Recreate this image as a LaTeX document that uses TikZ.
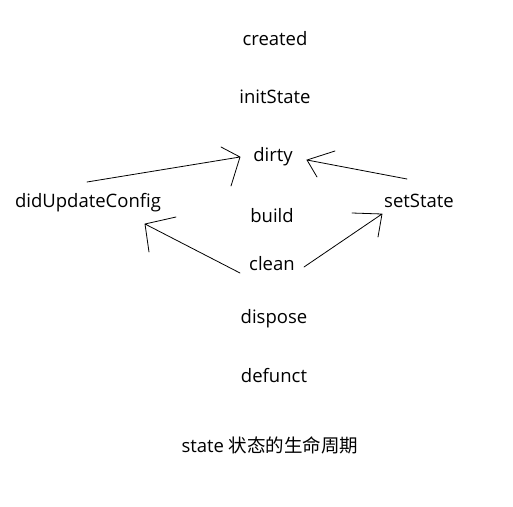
\documentclass[tikz,border=0pt]{standalone}
\usepackage{fontspec}
\setmainfont{Open Sans}
\newfontfamily\cjk{Noto Sans CJK SC}
\begin{document}
\begin{tikzpicture}[x=1pt,y=-1pt,
  lbl/.style={inner sep=0pt,font=\fontsize{18.5}{21}\selectfont},
  stroke/.style={line width=0.8pt,line cap=round}]
\useasboundingbox[fill=white] (0,0) rectangle (513,506);
\node[lbl] (created) at (275,39) {created};
\node[lbl] (initState) at (275,97) {initState};
\node[lbl] (dirty) at (273,157) {dirty};
\node[lbl] (didUpdateConfig) at (88,203) {didUpdateConfig};
\node[lbl] (build) at (272,216) {build};
\node[lbl] (setState) at (419,201) {setState};
\node[lbl] (clean) at (272,264) {clean};
\node[lbl] (dispose) at (274,319) {dispose};
\node[lbl] (defunct) at (274,376) {defunct};
\node[lbl] (title) at (270,445) {state {\cjk 状态的生命周期}};
% arrow didUpdateConfig -> dirty
\coordinate (a1s) at (87,182); \coordinate (a1e) at (240,157);
\coordinate (a1h1) at (221,147); \coordinate (a1h2) at (231,186);
\draw[stroke] (a1s) -- (a1e) (a1h1) -- (a1e) -- (a1h2);
% arrow setState -> dirty
\coordinate (a2s) at (407,179); \coordinate (a2e) at (307,160);
\coordinate (a2h1) at (335,151); \coordinate (a2h2) at (317,177);
\draw[stroke] (a2s) -- (a2e) (a2h1) -- (a2e) -- (a2h2);
% arrow clean -> didUpdateConfig
\coordinate (a3s) at (240,273); \coordinate (a3e) at (145,224);
\coordinate (a3h1) at (176,217); \coordinate (a3h2) at (149,252);
\draw[stroke] (a3s) -- (a3e) (a3h1) -- (a3e) -- (a3h2);
% arrow clean -> setState
\coordinate (a4s) at (304,267); \coordinate (a4e) at (382,214);
\coordinate (a4h1) at (352,213); \coordinate (a4h2) at (378,237);
\draw[stroke] (a4s) -- (a4e) (a4h1) -- (a4e) -- (a4h2);
\end{tikzpicture}
\end{document}
